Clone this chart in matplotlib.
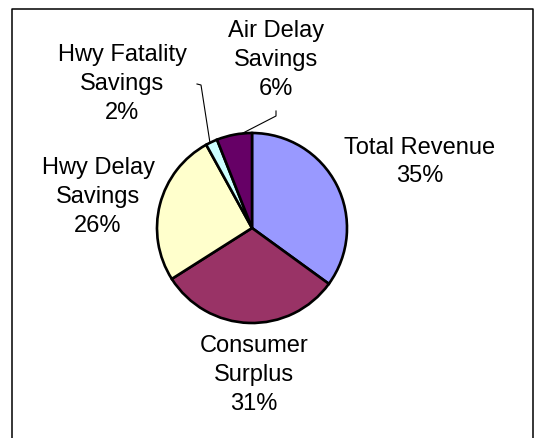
import matplotlib
matplotlib.use('Agg')
from matplotlib import pyplot as plt

labels = ['Total Revenue', 'Consumer\nSurplus', 'Hwy Delay\nSavings', 'Hwy Fatality\nSavings', 'Air Delay\nSavings']
shares = [35, 31, 26, 2, 6]
colors = ['#9999FF', '#993366', '#FFFFCC', '#CCFFFF', '#660066']

# label placement (pixel coords, y measured from top)
label_xy = [(420, 162), (254, 375), (98, 197), (122, 84), (276, 60)]

W, H = 534, 439
fig = plt.figure(figsize=(W / 100, H / 100), dpi=100)
ax = fig.add_axes([0, 0, 1, 1])

ax.pie(shares, colors=colors, startangle=90, counterclock=False,
       center=(252, H - 229), radius=95,
       wedgeprops=dict(edgecolor='black', linewidth=1.9))

# pie() resets the limits, so set them afterwards
ax.set_xlim(0, W)
ax.set_ylim(0, H)
ax.set_aspect('equal')
ax.axis('off')

for lab, val, (x, y) in zip(labels, shares, label_xy):
    ax.text(x, H - y, '%s\n%d%%' % (lab, val), ha='center', va='center',
            fontsize=17, family='Liberation Sans', linespacing=1.4)

# leader lines
ax.plot([197, 201, 210], [H - 85, H - 86, H - 144], color='black', lw=0.8)
ax.plot([276, 276, 243], [H - 112, H - 117, H - 134], color='black', lw=0.8)

# chart frame (cut off at the bottom)
ax.plot([12, 12, 532.5, 532.5], [-5, H - 10, H - 10, -5], color='black', lw=1.1)

fig.savefig('out.png', dpi=100)
